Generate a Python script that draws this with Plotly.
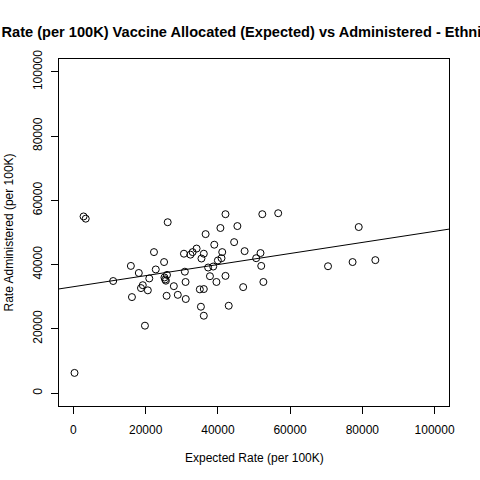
import numpy as np
import plotly.graph_objects as go

### values ###
expected_rate = [300, 2800, 3400, 11000, 15900, 16200, 18100, 18700, 19200, 19800,
                 20600, 21000, 22300, 22800, 25100, 25200, 25600, 25900, 25400, 25800,
                 26100, 27800, 28900, 30600, 30850, 31050, 31100, 32400, 33000, 34100,
                 35000, 35450, 36100, 36100, 35300, 36100, 36600, 37300, 38700, 37800,
                 39000, 39600, 40000, 41000, 40700, 41200, 42100, 42100, 43000, 44500,
                 45400, 47000, 47400, 50600, 51800, 52000, 52300, 52600, 56700, 70500,
                 77300, 79000, 83600]
administered_rate = [6300, 55000, 54300, 34900, 39600, 29900, 37400, 32700, 33600, 21000,
                     32000, 35700, 43900, 38500, 40800, 36000, 35000, 36800, 35400, 30300,
                     53200, 33300, 30600, 43400, 37800, 34600, 29300, 43100, 43900, 45000,
                     32300, 41900, 43400, 32400, 26900, 24100, 49500, 39100, 39400, 36400,
                     46200, 34600, 41300, 42000, 51400, 43900, 55700, 36500, 27200, 47000,
                     52000, 33000, 44200, 42000, 43600, 39600, 55700, 34600, 56000, 39500,
                     40800, 51700, 41400]
tick_vals = [0, 20000, 40000, 60000, 80000, 100000]
tick_text = ["0", "20000", "40000", "60000", "80000", "100000"]
axis_lim = [-4000, 104000]

title_text = "Rate (per 100K) Vaccine Allocated (Expected) vs Administered - Ethnicity"

# fitted line (like abline(lm(y ~ x)))
slope, intercept = np.polyfit(expected_rate, administered_rate, 1)
line_x = np.array(axis_lim)
line_y = intercept + slope * line_x

fig = go.Figure()
fig.add_trace(go.Scatter(x=expected_rate, y=administered_rate, mode='markers',
                         marker=dict(symbol='circle-open', size=7, color='black',
                                     line=dict(width=1, color='black')),
                         showlegend=False))
fig.add_trace(go.Scatter(x=line_x, y=line_y, mode='lines',
                         line=dict(color='black', width=1), showlegend=False))

font_name = "Liberation Sans, Arial, sans-serif"
axis_style = dict(range=axis_lim, tickvals=tick_vals, ticktext=tick_text,
                  showgrid=False, zeroline=False,
                  showline=True, mirror=True, linecolor='black', linewidth=1,
                  ticks='outside', ticklen=7, tickwidth=1, tickcolor='black',
                  tickfont=dict(family=font_name, size=12, color='black'))

fig.update_layout(
    width=480, height=480,
    margin=dict(l=59, r=31, t=59, b=74),
    plot_bgcolor='white', paper_bgcolor='white',
    title=dict(text="<b>" + title_text + "</b>", x=0.5, xref='paper', xanchor='center',
               y=1 - 32 / 480, yref='container', yanchor='middle',
               font=dict(family=font_name, size=14.6, color='black')),
    xaxis=dict(**axis_style, ticklabelstandoff=6),
    yaxis=dict(**axis_style, tickangle=-90, ticklabelstandoff=4),
    annotations=[
        dict(text="Expected Rate (per 100K)", x=0.5, xref='paper', y=-52 / 347, yref='paper',
             xanchor='center', yanchor='middle', showarrow=False,
             font=dict(family=font_name, size=12, color='black')),
        dict(text="Rate Administered (per 100K)", x=-51 / 390, xref='paper', y=0.5, yref='paper',
             xanchor='center', yanchor='middle', showarrow=False, textangle=-90,
             font=dict(family=font_name, size=12, color='black')),
    ],
)

# drop the page's default body margin so the figure sits at the window corner
fig.write_html("out.html", config={'displayModeBar': False},
               post_script="document.body.style.margin='0';")
